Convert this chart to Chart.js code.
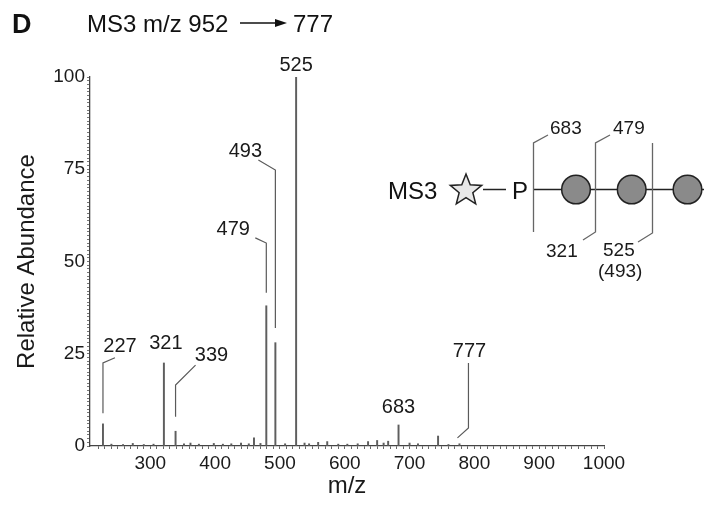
<!DOCTYPE html>
<html>
<head>
<meta charset="utf-8">
<script src="https://cdn.jsdelivr.net/npm/chart.js@4.4.0/dist/chart.umd.min.js"></script>
<style>
  html, body { margin: 0; padding: 0; background: #fff; }
  #wrap { width: 704px; height: 506px; position: relative; }
</style>
</head>
<body>
<div id="wrap"><canvas id="spectrum"></canvas></div>
<script>
// peaks of the MS3 spectrum: m/z and relative abundance (%)
const peakMz  = [227, 240, 258, 273, 290, 305, 321, 339, 352, 362, 375, 398, 412, 425, 440, 452, 460, 470,
                 479, 493, 508, 525, 538, 545, 559, 573, 590, 604, 620, 636, 650, 660, 667, 683, 700, 713, 744, 760, 777];
const peakInt = [6.0, 0.5, 0.4, 0.7, 0.4, 0.5, 22.5, 4.0, 0.6, 0.8, 0.5, 0.7, 0.5, 0.6, 0.8, 0.6, 2.2, 0.7,
                 38.0, 28.0, 0.6, 100, 0.8, 0.6, 1.0, 1.2, 0.5, 0.5, 0.6, 1.2, 1.5, 0.8, 1.3, 5.7, 0.8, 0.6, 2.7, 0.4, 0.6];

// labelled peaks
const labelMz   = [227, 321, 339, 479, 493, 525, 683, 777];
const labelText = ['227', '321', '339', '479', '493', '525', '683', '777'];

const yLabelTicks = [0, 25, 50, 75, 100];
const xLabelTicks = [300, 400, 500, 600, 700, 800, 900, 1000];

const FONT = "'Liberation Sans', Arial, Helvetica, sans-serif";

// leader lines: points as [dx px from peak, abundance], label as [dx px, abundance of baseline]
const leaders = {
  227: { pts: [[0, 8.9], [0, 22.5], [12, 23.9]], lab: [17, 25.5] },
  321: { pts: [], lab: [2, 26.3] },
  339: { pts: [[0, 7.9], [0, 16.5], [20, 21.9]], lab: [36, 23.0] },
  479: { pts: [[0, 41.5], [0, 55.0], [-11, 56.4]], lab: [-33, 57.2] },
  493: { pts: [[0, 32.0], [0, 74.8], [-17, 77.5]], lab: [-30, 78.3] },
  525: { pts: [], lab: [0, 101.5] },
  683: { pts: [], lab: [0, 9.0] },
  777: { pts: [[-2, 2.2], [9, 4.9], [9, 22.5]], lab: [10, 24.1] }
};

function drawStar(ctx, cx, cy, R, r) {
  ctx.beginPath();
  for (let i = 0; i < 10; i++) {
    const rad = i % 2 === 0 ? R : r;
    const a = -Math.PI / 2 + i * Math.PI / 5;
    const px = cx + rad * Math.cos(a), py = cy + rad * Math.sin(a);
    if (i === 0) ctx.moveTo(px, py); else ctx.lineTo(px, py);
  }
  ctx.closePath();
}

const annotations = {
  id: 'annotations',
  afterDraw(chart) {
    const ctx = chart.ctx;
    const xs = chart.scales.x, ys = chart.scales.y;
    ctx.save();

    // peak labels + leaders
    ctx.strokeStyle = '#5a5a5a';
    ctx.lineWidth = 1.2;
    ctx.fillStyle = '#1a1a1a';
    ctx.font = '20px ' + FONT;
    ctx.textAlign = 'center';
    ctx.textBaseline = 'alphabetic';
    labelMz.forEach((mz, i) => {
      const px = xs.getPixelForValue(mz);
      const ld = leaders[mz];
      if (ld.pts.length) {
        ctx.beginPath();
        ld.pts.forEach((p, j) => {
          const x = px + p[0], y = ys.getPixelForValue(p[1]);
          if (j === 0) ctx.moveTo(x, y); else ctx.lineTo(x, y);
        });
        ctx.stroke();
      }
      ctx.fillText(labelText[i], px + ld.lab[0], ys.getPixelForValue(ld.lab[1]));
    });

    // title
    ctx.textAlign = 'left';
    ctx.fillStyle = '#111';
    ctx.font = 'bold 27px ' + FONT;
    ctx.fillText('D', 12, 33);
    ctx.font = '24px ' + FONT;
    ctx.fillText('MS3 m/z 952', 87, 32);
    ctx.fillText('777', 293, 32);
    ctx.strokeStyle = '#111';
    ctx.lineWidth = 1.4;
    ctx.beginPath(); ctx.moveTo(240, 23); ctx.lineTo(278, 23); ctx.stroke();
    ctx.beginPath(); ctx.moveTo(287, 23); ctx.lineTo(275, 19); ctx.lineTo(275, 27); ctx.closePath(); ctx.fill();

    // structure scheme
    const cy = 189.5;
    ctx.fillText('MS3', 388, 199);
    drawStar(ctx, 466, 190.5, 16.5, 7.2);
    ctx.fillStyle = '#e8e8e8'; ctx.fill();
    ctx.strokeStyle = '#222'; ctx.lineWidth = 1.5; ctx.stroke();
    ctx.fillStyle = '#111';
    ctx.beginPath(); ctx.moveTo(483, cy); ctx.lineTo(506, cy); ctx.stroke();
    ctx.fillText('P', 512, 199);
    ctx.beginPath(); ctx.moveTo(533, cy); ctx.lineTo(704, cy); ctx.stroke();
    [576, 631.7, 687.5].forEach(cx => {
      ctx.beginPath(); ctx.arc(cx, cy, 14.3, 0, Math.PI * 2);
      ctx.fillStyle = '#8a8a8a'; ctx.fill();
      ctx.strokeStyle = '#222'; ctx.lineWidth = 1.5; ctx.stroke();
    });
    // cleavage brackets
    ctx.strokeStyle = '#666'; ctx.lineWidth = 1.3;
    ctx.beginPath();
    ctx.moveTo(548, 135); ctx.lineTo(533.5, 143); ctx.lineTo(533.5, 232);
    ctx.moveTo(610, 135); ctx.lineTo(595.5, 143); ctx.lineTo(595.5, 232); ctx.lineTo(583, 240);
    ctx.moveTo(652.5, 143); ctx.lineTo(652.5, 233); ctx.lineTo(638, 242);
    ctx.stroke();
    ctx.fillStyle = '#1a1a1a';
    ctx.font = '19px ' + FONT;
    ctx.textAlign = 'left';
    ctx.fillText('683', 550, 134);
    ctx.fillText('479', 613, 134);
    ctx.fillText('321', 546, 257);
    ctx.fillText('525', 603, 256);
    ctx.fillText('(493)', 598, 277);
    ctx.restore();
  }
};

new Chart(document.getElementById('spectrum'), {
  type: 'bar',
  data: {
    datasets: [{
      data: peakMz.map((m, i) => ({ x: m, y: peakInt[i] })),
      backgroundColor: '#5e5e5e',
      barThickness: 1.3,
      borderWidth: 0
    }]
  },
  options: {
    responsive: true,
    maintainAspectRatio: false,
    animation: false,
    layout: { padding: { top: 77, right: 100, left: 0, bottom: 0 } },
    plugins: { legend: { display: false }, tooltip: { enabled: false }, title: { display: false } },
    scales: {
      x: {
        type: 'linear',
        offset: false,
        min: 207,
        max: 1000,
        afterFit: s => { s.height = 60; },
        afterBuildTicks: s => { s.ticks = s.ticks.filter(t => t.value % 10 === 0); },
        grid: { offset: false, drawOnChartArea: false, tickLength: 3, color: '#666' },
        border: { display: true, color: '#444', width: 1.3 },
        ticks: {
          stepSize: 10,
          autoSkip: false,
          maxRotation: 0,
          padding: 3,
          color: '#1a1a1a',
          font: { family: FONT, size: 19 },
          callback: v => xLabelTicks.includes(v) ? String(v) : ''
        },
        title: { display: true, text: 'm/z', color: '#1a1a1a', font: { family: FONT, size: 24 }, padding: { top: 0, bottom: 5 } }
      },
      y: {
        min: 0,
        max: 100,
        afterFit: s => { s.width = 90; },
        grid: { drawOnChartArea: false, tickLength: 3, color: '#777' },
        border: { display: true, color: '#444', width: 1.3 },
        ticks: {
          stepSize: 1,
          autoSkip: false,
          padding: 2,
          color: '#1a1a1a',
          font: { family: FONT, size: 19 },
          callback: v => yLabelTicks.includes(v) ? String(v) : ''
        },
        title: { display: true, text: 'Relative Abundance', color: '#1a1a1a', font: { family: FONT, size: 24 }, padding: { top: 13, bottom: 0 } }
      }
    }
  },
  plugins: [annotations]
});
</script>
</body>
</html>
